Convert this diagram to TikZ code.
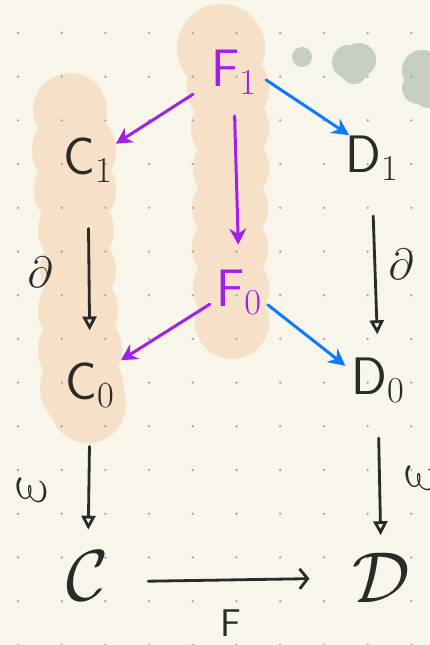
\documentclass[tikz,border=0pt]{standalone}
\usepackage{amsmath,amssymb}
\usepackage{tikz}
\usetikzlibrary{arrows.meta}
\definecolor{paper}{HTML}{F8F5EA}
\definecolor{peach}{HTML}{F6E1C8}
\definecolor{smudge}{HTML}{C7CEC3}
\definecolor{gridcolor}{HTML}{A9A59B}
\definecolor{inkcolor}{HTML}{2B2A28}
\definecolor{liftcolor}{HTML}{A21EEF}
\definecolor{pushcolor}{HTML}{0B7BFF}
\tikzset{
  cd obj/.style={inner sep=0pt,text=inkcolor,font=\sffamily\fontsize{30}{34}\selectfont},
  cd big/.style={inner sep=0pt,text=inkcolor,font=\fontsize{24}{28}\selectfont,scale=1.65},
  cd label/.style={inner sep=0pt,text=inkcolor,font=\fontsize{24}{28}\selectfont},
  cd lift/.style={liftcolor,line width=1.7pt,line cap=round,-{Stealth[length=3.2mm,width=3.4mm]}},
  cd push/.style={pushcolor,line width=1.7pt,line cap=round,-{Stealth[length=3.4mm,width=3.4mm]}},
  cd ink/.style={inkcolor,line width=1.6pt,line cap=round,-{Triangle[open,length=2.8mm,width=2.8mm]}},
  cd functor/.style={inkcolor,line width=1.6pt,line cap=round,-{Straight Barb[length=1.6mm,width=4mm]}}
}
\newcommand{\sub}[1]{$_{\scriptstyle #1}$}

\begin{document}
\begin{tikzpicture}[x=0.02cm,y=-0.02cm]
  \useasboundingbox (0,0) rectangle (429,645);
  \fill[paper] (0,0) rectangle (429,645);
  % highlighter blobs
  \fill[peach] (221,48) circle (44) (228,88) circle (41) (230,128) circle (39)
    (231,168) circle (38) (230,208) circle (38) (230,248) circle (38)
    (231,288) circle (38) (232,322) circle (37);
  \fill[peach] (70,110) circle (37) (74,150) circle (42) (75,190) circle (41)
    (76,230) circle (38) (78,270) circle (38) (78,310) circle (40)
    (80,350) circle (42) (82,388) circle (42) (88,405) circle (38);
  \fill[smudge] (302,57) circle (10) (349,62) circle (17) (359,60) circle (17) (354,70) circle (14);
  \fill[smudge] (422,70) circle (20) (418,88) circle (16) (429,92) circle (16);
  % dotted paper
  \foreach \i in {0,...,9}{
    \foreach \j in {0,...,14}{
      \fill[gridcolor] (18+43.7*\i,33+43.7*\j) circle (1.3);
    }
  }
  % objects
  \node[cd obj,text=liftcolor] (F1) at (234,72) {F\sub{1}};
  \node[cd obj,text=liftcolor] (F0) at (239,292) {F\sub{0}};
  \node[cd obj] (C1) at (88,160) {C\sub{1}};
  \node[cd obj] (C0) at (90,385) {C\sub{0}};
  \node[cd obj] (D1) at (372,158) {D\sub{1}};
  \node[cd obj] (D0) at (378,380) {D\sub{0}};
  \node[cd big] (CC) at (88,576) {$\mathcal{C}$};
  \node[cd big] (DD) at (381,578) {$\mathcal{D}$};
  % arrows
  \draw[cd lift,shorten <=12pt,shorten >=2pt] (F1.205) -- (C1.30);
  \draw[cd push,shorten <=6pt] (F1.-5) -- (D1.135);
  \draw[cd lift,shorten <=12pt,shorten >=14pt] (F1.south) -- (F0.north);
  \draw[cd lift,shorten <=4pt,shorten >=4pt] (F0.200) -- (C0.40);
  \draw[cd push,shorten <=4pt,shorten >=4pt] (F0.-20) -- (D0.160);
  \draw[cd ink,shorten <=26pt,shorten >=18pt] (C1.south) -- (C0.north);
  \draw[cd ink,shorten <=20pt,shorten >=13pt] (D1.south) -- (D0.north);
  \draw[cd ink,shorten <=22pt,shorten >=12pt] (C0.south) -- (CC.north);
  \draw[cd ink,shorten <=20pt,shorten >=10pt] (D0.south) -- (DD.north);
  \draw[cd functor,shorten <=22pt,shorten >=24pt] (CC.-15) -- (DD.west)
    node[cd label,font=\sffamily\fontsize{22}{26}\selectfont,pos=.5,below=16pt] (Fun) {F};
  % labels
  \node[cd label] (dl) at (40,272) {$\partial$};
  \node[cd label] (dr) at (401,264) {$\partial$};
  \node[cd label,scale=1.45,rotate=90] (el) at (32,490) {$\varepsilon$};
  \node[cd label,scale=1.45,rotate=90] (er) at (421,478) {$\varepsilon$};
\end{tikzpicture}
\end{document}
